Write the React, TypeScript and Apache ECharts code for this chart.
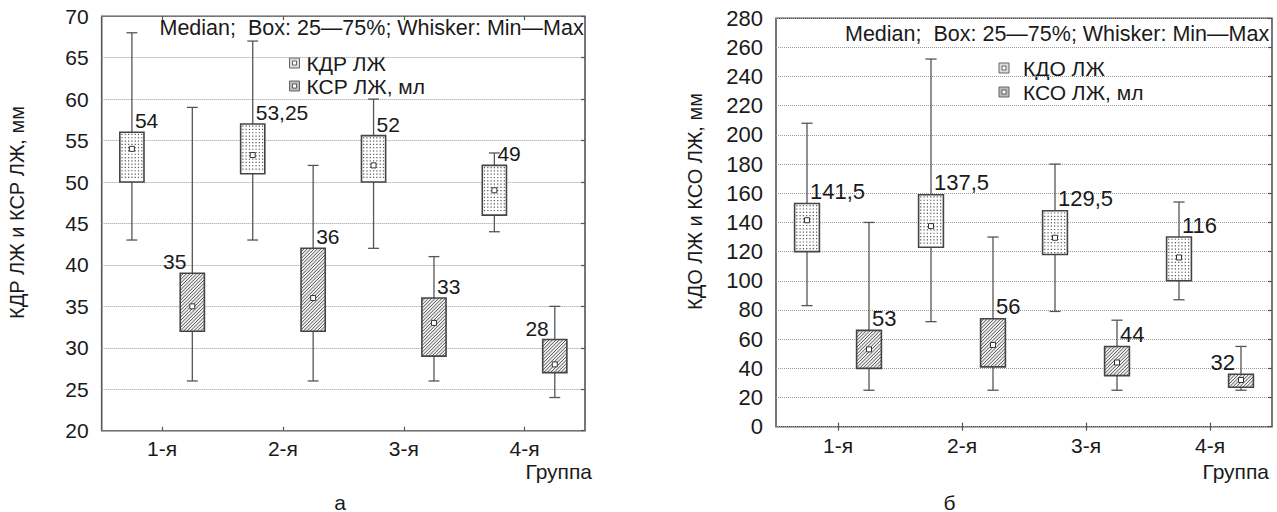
import React, { useEffect, useRef } from "react";
import * as echarts from "echarts";

const FONT = '"Liberation Sans", Arial, Helvetica, sans-serif';

// Categories
const groups = ["1-я", "2-я", "3-я", "4-я"];

// Chart "а": КДР ЛЖ (mm) and КСР ЛЖ
const kdrMin = [43, 43, 42, 44];
const kdrQ1 = [50, 51, 50, 46];
const kdrMedian = [54, 53.25, 52, 49];
const kdrQ3 = [56, 57, 55.6, 52];
const kdrMax = [68, 67, 60, 53.5];

const ksrMin = [26, 26, 26, 24];
const ksrQ1 = [32, 32, 29, 27];
const ksrMedian = [35, 36, 33, 28];
const ksrQ3 = [39, 42, 36, 31];
const ksrMax = [59, 52, 41, 35];

// Chart "б": КДО ЛЖ and КСО ЛЖ
const kdoMin = [83, 72, 79, 87];
const kdoQ1 = [120, 123, 118, 100];
const kdoMedian = [141.5, 137.5, 129.5, 116];
const kdoQ3 = [153, 159, 148, 130];
const kdoMax = [208, 252, 180, 154];

const ksoMin = [25, 25, 25, 25];
const ksoQ1 = [40, 41, 35, 27];
const ksoMedian = [53, 56, 44, 32];
const ksoQ3 = [66, 74, 55, 36];
const ksoMax = [140, 130, 73, 55];

// Axis ticks
const leftTicks = { min: 20, max: 70, interval: 5 };
const rightTicks = { min: 0, max: 280, interval: 20 };

// Which side of the whisker each median label sits on
const kdrLabelSide = ["right", "right", "right", "right"];
const ksrLabelSide = ["left", "right", "right", "left"];
const kdoLabelSide = ["right", "right", "right", "right"];
const ksoLabelSide = ["right", "right", "right", "left"];

const headerText = "Median;  Box: 25\u201475%; Whisker: Min\u2014Max";

function rows(mn: number[], q1: number[], md: number[], q3: number[], mx: number[]) {
  return groups.map((_, i) => [i, mn[i], q1[i], md[i], q3[i], mx[i]]);
}

function fmt(v: number) {
  return String(v).replace(".", ",");
}

function makeRenderItem(side: number, pattern: string, labelSides: string[], fontSize: number) {
  return (params: any, api: any) => {
    const cat = api.value(0);
    const vMin = api.value(1);
    const vQ1 = api.value(2);
    const vMed = api.value(3);
    const vQ3 = api.value(4);
    const vMax = api.value(5);
    const band = api.size([1, 0])[0];
    const c = api.coord([cat, vMed]);
    const cx = c[0] + side * 0.25 * band;
    const w = 0.2 * band;
    const yMin = api.coord([cat, vMin])[1];
    const yQ1 = api.coord([cat, vQ1])[1];
    const yMed = c[1];
    const yQ3 = api.coord([cat, vQ3])[1];
    const yMax = api.coord([cat, vMax])[1];
    const x0 = cx - w / 2;
    const x1 = cx + w / 2;
    const capW = 0.045 * band;
    const lineStyle = { stroke: "#555", lineWidth: 1.3 };
    const children: any[] = [];
    children.push({ type: "line", shape: { x1: cx, y1: yMax, x2: cx, y2: yQ3 }, style: lineStyle });
    children.push({ type: "line", shape: { x1: cx, y1: yQ1, x2: cx, y2: yMin }, style: lineStyle });
    children.push({ type: "line", shape: { x1: cx - capW, y1: yMax, x2: cx + capW, y2: yMax }, style: lineStyle });
    children.push({ type: "line", shape: { x1: cx - capW, y1: yMin, x2: cx + capW, y2: yMin }, style: lineStyle });
    const y0 = yQ3;
    const y1 = yQ1;
    children.push({
      type: "rect",
      shape: { x: x0, y: y0, width: w, height: y1 - y0 },
      style: { fill: pattern === "dots" ? "#fff" : "#f0f0f0" },
    });
    if (pattern === "dots") {
      const step = 3.3;
      for (let yy = y0 + 2.2; yy < y1 - 1.5; yy += step) {
        for (let xx = x0 + 2.2; xx < x1 - 1.5; xx += step) {
          children.push({
            type: "rect",
            shape: { x: xx - 0.6, y: yy - 0.6, width: 1.2, height: 1.2 },
            style: { fill: "#555" },
          });
        }
      }
    } else {
      const step = 3.4;
      for (let k = x0 + y0 + step; k < x1 + y1; k += step) {
        const xa = Math.max(x0, k - y1);
        const xb = Math.min(x1, k - y0);
        if (xb > xa) {
          children.push({
            type: "line",
            shape: { x1: xa, y1: k - xa, x2: xb, y2: k - xb },
            style: { stroke: "#444", lineWidth: 0.9 },
          });
        }
      }
    }
    children.push({
      type: "rect",
      shape: { x: x0, y: y0, width: w, height: y1 - y0 },
      style: { fill: "none", stroke: "#444", lineWidth: 1.6 },
    });
    children.push({
      type: "rect",
      shape: { x: cx - 2.5, y: yMed - 2.5, width: 5, height: 5 },
      style: { fill: "#fff", stroke: "#333", lineWidth: 1 },
    });
    const lside = labelSides[params.dataIndex];
    children.push({
      type: "text",
      x: lside === "left" ? cx - 6 : cx + 3,
      y: yQ3 - 1,
      style: {
        text: fmt(vMed),
        fontSize,
        fontFamily: FONT,
        fill: "#1a1a1a",
        align: lside === "left" ? "right" : "left",
        verticalAlign: "bottom",
      },
    });
    return { type: "group", children };
  };
}

function catAxis(gridIndex: number, position: string, fontSize: number, margin: number) {
  const bottom = position === "bottom";
  return {
    type: "category",
    gridIndex,
    data: groups,
    position,
    boundaryGap: true,
    axisLine: { show: false },
    axisTick: { show: true, inside: true, alignWithLabel: true, length: 4, lineStyle: { color: "#555", width: 1.2 } },
    axisLabel: bottom
      ? { show: true, fontSize, fontFamily: FONT, color: "#1a1a1a", margin }
      : { show: false },
    splitLine: { show: false },
  };
}

function valAxis(gridIndex: number, position: string, t: any, fontSize: number, shift: number) {
  const left = position === "left";
  return {
    type: "value",
    gridIndex,
    position,
    min: t.min,
    max: t.max,
    interval: t.interval,
    axisLine: { show: false },
    axisTick: left ? { show: false } : { show: true, inside: true, length: 4, lineStyle: { color: "#555", width: 1.2 } },
    axisLabel: left
      ? { show: true, fontSize, fontFamily: FONT, color: "#1a1a1a", margin: 13, padding: [shift, 0, 0, 0] }
      : { show: false },
    splitLine: left ? { show: true, lineStyle: { type: "dotted", color: "#9a9a9a", width: 1 } } : { show: false },
  };
}

function legendIcon(x: number, y: number, fill: string) {
  return {
    type: "group",
    x,
    y,
    children: [
      { type: "rect", shape: { x: 0, y: 0, width: 10, height: 10 }, style: { fill, stroke: "#666", lineWidth: 1 } },
      { type: "rect", shape: { x: 3, y: 3, width: 4, height: 4 }, style: { fill: "#fff", stroke: "#444", lineWidth: 0.8 } },
    ],
  };
}

function txt(x: number, y: number, text: string, fontSize: number, align = "left", rotation = 0) {
  return {
    type: "text",
    x,
    y,
    rotation,
    style: { text, fontSize, fontFamily: FONT, fill: "#1a1a1a", align, verticalAlign: "middle" },
  };
}

export default function App() {
  const ref = useRef<HTMLDivElement>(null);
  useEffect(() => {
    if (!ref.current) return;
    const chart = echarts.init(ref.current, undefined, { renderer: "svg" });
    const option: any = {
      animation: false,
      backgroundColor: "#fff",
      grid: [
        { left: 101.7, top: 16.2, width: 483.3, height: 414.5, show: true, borderColor: "#555", borderWidth: 1.6, backgroundColor: "transparent" },
        { left: 776, top: 18.2, width: 496, height: 408.5, show: true, borderColor: "#555", borderWidth: 1.6, backgroundColor: "transparent" },
      ],
      xAxis: [catAxis(0, "bottom", 21, 7), catAxis(0, "top", 21, 7), catAxis(1, "bottom", 21, 8), catAxis(1, "top", 21, 8)],
      yAxis: [
        valAxis(0, "left", leftTicks, 21, 10),
        valAxis(0, "right", leftTicks, 21, 0),
        valAxis(1, "left", rightTicks, 22, 7),
        valAxis(1, "right", rightTicks, 22, 0),
      ],
      series: [
        {
          type: "custom",
          name: "КДР ЛЖ",
          xAxisIndex: 0,
          yAxisIndex: 0,
          clip: false,
          encode: { x: 0, y: [1, 2, 3, 4, 5] },
          data: rows(kdrMin, kdrQ1, kdrMedian, kdrQ3, kdrMax),
          renderItem: makeRenderItem(-1, "dots", kdrLabelSide, 21),
        },
        {
          type: "custom",
          name: "КСР ЛЖ, мл",
          xAxisIndex: 0,
          yAxisIndex: 0,
          clip: false,
          encode: { x: 0, y: [1, 2, 3, 4, 5] },
          data: rows(ksrMin, ksrQ1, ksrMedian, ksrQ3, ksrMax),
          renderItem: makeRenderItem(1, "hatch", ksrLabelSide, 21),
        },
        {
          type: "custom",
          name: "КДО ЛЖ",
          xAxisIndex: 2,
          yAxisIndex: 2,
          clip: false,
          encode: { x: 0, y: [1, 2, 3, 4, 5] },
          data: rows(kdoMin, kdoQ1, kdoMedian, kdoQ3, kdoMax),
          renderItem: makeRenderItem(-1, "dots", kdoLabelSide, 22),
        },
        {
          type: "custom",
          name: "КСО ЛЖ, мл",
          xAxisIndex: 2,
          yAxisIndex: 2,
          clip: false,
          encode: { x: 0, y: [1, 2, 3, 4, 5] },
          data: rows(ksoMin, ksoQ1, ksoMedian, ksoQ3, ksoMax),
          renderItem: makeRenderItem(1, "hatch", ksoLabelSide, 22),
        },
      ],
      graphic: [
        txt(159.5, 28, headerText, 21.5),
        txt(845, 34, headerText, 21.5),
        legendIcon(289.5, 58, "#dcdcdc"),
        txt(306.5, 63, "КДР ЛЖ", 21),
        legendIcon(289.5, 81, "#b8b8b8"),
        txt(306.5, 86, "КСР ЛЖ, мл", 21),
        legendIcon(999, 63, "#dcdcdc"),
        txt(1023, 68.5, "КДО ЛЖ", 21),
        legendIcon(999, 87, "#b8b8b8"),
        txt(1023, 92, "КСО ЛЖ, мл", 21),
        txt(592, 471.5, "Группа", 21, "right"),
        txt(1269, 471.5, "Группа", 21, "right"),
        txt(340, 502, "а", 21, "center"),
        txt(949.5, 502, "б", 21, "center"),
        txt(16.7, 212.5, "КДР ЛЖ и КСР ЛЖ, мм", 20, "center", Math.PI / 2),
        txt(695, 201.5, "КДО ЛЖ и КСО ЛЖ, мм", 20, "center", Math.PI / 2),
      ],
    };
    chart.setOption(option);
    return () => chart.dispose();
  }, []);
  return (
    <div
      ref={ref}
      style={{ position: "absolute", left: 0, top: 0, width: 1277, height: 512, background: "#fff" }}
    />
  );
}
